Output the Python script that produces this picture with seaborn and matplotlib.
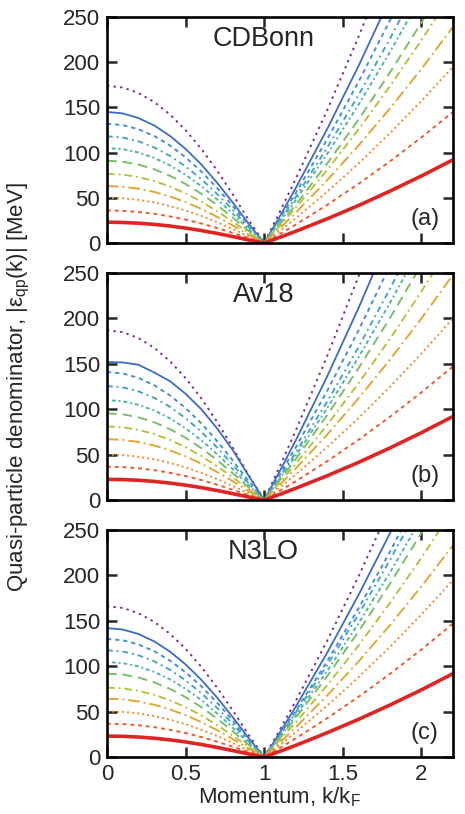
import matplotlib
matplotlib.use("Agg")
import matplotlib.pyplot as plt
import seaborn as sns
import pandas as pd

# momentum grid, k/kF
k = [0, 0.1, 0.2, 0.3, 0.4, 0.5, 0.6, 0.7, 0.8, 0.9, 1.0, 1.1, 1.2, 1.4, 1.6, 1.8, 2.0, 2.2]

# |eps_qp(k)| [MeV], one row per curve, lowest (red) to highest (purple)
cdbonn = [
    [23, 22.7, 21.9, 20.6, 18.8, 16.5, 13.8, 10.6, 7.1, 3.4, 0, 6.3, 12.9, 26.7, 41.5, 57.4, 74.2, 92.0],
    [36, 35.6, 34.3, 32.3, 29.4, 25.8, 21.6, 16.6, 11.1, 5.3, 0, 9.9, 20.3, 42.1, 65.5, 90.4, 116.9, 144.9],
    [50, 49.5, 47.7, 44.9, 40.9, 35.9, 30.0, 23.1, 15.5, 7.4, 0, 13.4, 27.2, 56.6, 88.0, 121.6, 157.2, 194.9],
    [63, 62.3, 60.1, 56.5, 51.5, 45.2, 37.7, 29.0, 19.5, 9.3, 0, 16.4, 33.4, 69.4, 107.9, 149.0, 192.7, 239.0],
    [76.5, 75.7, 73.0, 68.6, 62.6, 54.9, 45.8, 35.3, 23.6, 11.3, 0, 19.1, 38.9, 80.8, 125.7, 173.6, 224.5, 278.4],
    [91, 90.0, 86.8, 81.6, 74.4, 65.3, 54.5, 42.0, 28.1, 13.5, 0, 20.7, 42.3, 87.8, 136.6, 188.7, 244.0, 302.5],
    [105, 103.8, 100.2, 94.2, 85.9, 75.4, 62.9, 48.4, 32.4, 15.5, 0, 23.2, 47.4, 98.4, 153.1, 211.4, 273.4, 339.0],
    [118, 116.7, 112.6, 105.8, 96.5, 84.7, 70.7, 54.4, 36.5, 17.5, 0, 24.9, 50.7, 105.3, 163.8, 226.2, 292.6, 362.8],
    [132, 130.5, 125.9, 118.4, 108.0, 94.8, 79.1, 60.9, 40.8, 19.5, 0, 27.1, 55.2, 114.7, 178.5, 246.5, 318.7, 395.2],
    [145, 143.4, 138.3, 130.1, 118.6, 104.1, 86.9, 66.8, 44.8, 21.5, 0, 29.7, 60.7, 126.0, 196.0, 270.6, 349.9, 433.9],
    [174, 172.1, 166.0, 156.1, 142.3, 124.9, 104.2, 80.2, 53.8, 25.8, 0, 34.7, 70.7, 146.8, 228.3, 315.3, 407.8, 505.6],
]

av18 = [
    [22.8, 22.5, 21.8, 20.5, 18.7, 16.4, 13.7, 10.5, 7.0, 3.4, 0, 6.3, 12.9, 26.7, 41.5, 57.4, 74.2, 92.0],
    [36.7, 36.3, 35.0, 32.9, 30.0, 26.4, 22.0, 16.9, 11.3, 5.4, 0, 10.1, 20.6, 42.7, 66.4, 91.7, 118.6, 147.0],
    [50, 49.5, 47.7, 44.9, 40.9, 35.9, 30.0, 23.1, 15.5, 7.4, 0, 13.7, 28.0, 58.1, 90.3, 124.7, 161.3, 200.0],
    [67, 66.3, 63.9, 60.1, 54.8, 48.1, 40.1, 30.9, 20.7, 9.9, 0, 17.0, 34.7, 72.0, 112.0, 154.7, 200.0, 248.0],
    [81, 80.1, 77.3, 72.7, 66.3, 58.2, 48.5, 37.3, 25.0, 12.0, 0, 19.5, 39.8, 82.7, 128.6, 177.6, 229.7, 284.8],
    [95.5, 94.4, 91.1, 85.7, 78.1, 68.6, 57.2, 44.0, 29.5, 14.1, 0, 22.0, 44.9, 93.4, 145.2, 200.5, 259.3, 321.6],
    [110, 108.8, 104.9, 98.7, 90.0, 79.0, 65.9, 50.7, 34.0, 16.3, 0, 23.9, 48.7, 101.0, 157.2, 217.1, 280.7, 348.0],
    [125.5, 124.1, 119.7, 112.6, 102.7, 90.1, 75.2, 57.9, 38.8, 18.6, 0, 25.6, 52.1, 108.3, 168.5, 232.6, 300.8, 373.0],
    [141, 139.4, 134.5, 126.5, 115.3, 101.2, 84.5, 65.0, 43.6, 20.9, 0, 28.4, 57.8, 120.1, 186.9, 258.1, 333.7, 413.8],
    [152, 151.5, 149, 140.5, 131, 117, 100, 79, 55, 27, 0, 32.1, 65.5, 136.0, 211.5, 292.1, 377.8, 468.4],
    [187, 184.9, 178.4, 167.7, 153.0, 134.3, 112.0, 86.2, 57.8, 27.7, 0, 37.4, 76.3, 158.4, 246.4, 340.2, 439.9, 545.5],
]

n3lo = [
    [23.1, 22.8, 22.0, 20.7, 18.9, 16.6, 13.8, 10.6, 7.1, 3.4, 0, 6.3, 12.8, 26.7, 41.5, 57.3, 74.0, 91.8],
    [36.7, 36.3, 35.0, 32.9, 30.0, 26.4, 22.0, 16.9, 11.3, 5.4, 0, 10.1, 20.5, 42.6, 66.3, 91.6, 118.4, 146.9],
    [50.3, 49.7, 48.0, 45.1, 41.1, 36.1, 30.1, 23.2, 15.5, 7.4, 0, 13.3, 27.2, 56.5, 87.9, 121.4, 157.0, 194.6],
    [64.2, 63.5, 61.2, 57.6, 52.5, 46.1, 38.5, 29.6, 19.8, 9.5, 0, 16.0, 32.6, 67.7, 105.2, 145.3, 187.9, 233.0],
    [76.4, 75.6, 72.9, 68.5, 62.5, 54.9, 45.8, 35.2, 23.6, 11.3, 0, 18.7, 38.0, 79.0, 122.9, 169.7, 219.5, 272.2],
    [91.8, 90.8, 87.6, 82.3, 75.1, 65.9, 55.0, 42.3, 28.4, 13.6, 0, 21.0, 42.8, 88.9, 138.2, 190.9, 246.8, 306.1],
    [104.6, 103.4, 99.8, 93.8, 85.6, 75.1, 62.7, 48.2, 32.3, 15.5, 0, 22.3, 45.6, 94.6, 147.2, 203.2, 262.8, 325.9],
    [117.5, 116.2, 112.1, 105.4, 96.1, 84.4, 70.4, 54.2, 36.3, 17.4, 0, 23.9, 48.7, 101.0, 157.2, 217.1, 280.7, 348.0],
    [130, 128.6, 124.0, 116.6, 106.3, 93.3, 77.9, 59.9, 40.2, 19.2, 0, 24.9, 50.7, 105.3, 163.8, 226.2, 292.6, 362.8],
    [142, 140.4, 135.5, 127.4, 116.2, 102.0, 85.1, 65.5, 43.9, 21.0, 0, 27.1, 55.2, 114.7, 178.5, 246.5, 318.7, 395.2],
    [166, 164.2, 158.4, 148.9, 135.8, 119.2, 99.4, 76.5, 51.3, 24.6, 0, 30.2, 61.6, 127.9, 199.0, 274.8, 355.3, 440.6],
]

panel_names = ["CDBonn", "Av18", "N3LO"]
panel_tags = ["(a)", "(b)", "(c)"]

colors = ["#e02424", "#ef5c2c", "#f48a2c", "#e0a834", "#bcbf3e", "#7bbf68",
          "#50b5a2", "#46a5c4", "#4a8fd0", "#3d6cc2", "#7d2e8e"]
dashes = [None, (2, 2), (1, 1.6), (6, 2, 1, 2), (4, 2, 1, 2), (5, 3),
          (1, 1.5, 2, 1.5), (3, 2, 1, 2), (2.2, 2), None, (1.2, 2.2)]
widths = [2.6, 1.4, 1.4, 1.4, 1.4, 1.4, 1.4, 1.4, 1.4, 1.3, 1.4]

sns.set_theme(style="ticks")
plt.rcParams["font.family"] = ["Liberation Sans", "DejaVu Sans"]
plt.rcParams["mathtext.fontset"] = "custom"
plt.rcParams["mathtext.rm"] = "Liberation Sans"
plt.rcParams["mathtext.it"] = "Liberation Sans:italic"

fig = plt.figure(figsize=(4.65, 8.14), dpi=100)
boxes = [(0.230, 0.7015, 0.744, 0.2775),
         (0.230, 0.3857, 0.744, 0.2789),
         (0.230, 0.0700, 0.744, 0.2789)]

for p, (data, name, tag) in enumerate(zip([cdbonn, av18, n3lo], panel_names, panel_tags)):
    ax = fig.add_axes(boxes[p])
    for i in reversed(range(len(data))):
        df = pd.DataFrame({"k": k, "eps": data[i]})
        kw = {}
        if dashes[i] is not None:
            kw["dashes"] = dashes[i]
        sns.lineplot(data=df, x="k", y="eps", ax=ax, color=colors[i],
                     linewidth=widths[i], **kw)
    ax.set_xlim(0, 2.2)
    ax.set_ylim(0, 250)
    ax.set_xticks([0, 0.5, 1, 1.5, 2])
    ax.set_yticks([0, 50, 100, 150, 200, 250])
    ax.set_xlabel("")
    ax.set_ylabel("")
    ax.tick_params(direction="in", length=7, width=1.8, top=True, right=True,
                   labelsize=16, pad=5)
    for s in ax.spines.values():
        s.set_linewidth(1.9)
        s.set_color("black")
    if p < 2:
        ax.set_xticklabels([])
    else:
        ax.set_xticklabels(["0", "0.5", "1", "1.5", "2"])
        ax.set_xlabel("Momentum, k/k$_\\mathrm{F}$", fontsize=16, labelpad=0)
    ax.text(0.452, 0.905, name, transform=ax.transAxes, ha="center",
            va="center", fontsize=19.5)
    ax.text(0.919, 0.106, tag, transform=ax.transAxes, ha="center",
            va="center", fontsize=17)

fig.text(0.040, 0.5246, "Quasi-particle denominator, |ε$_\\mathrm{qp}$(k)| [MeV]",
         rotation=90, ha="center", va="center", fontsize=16)

fig.savefig("out.png", dpi=100)
